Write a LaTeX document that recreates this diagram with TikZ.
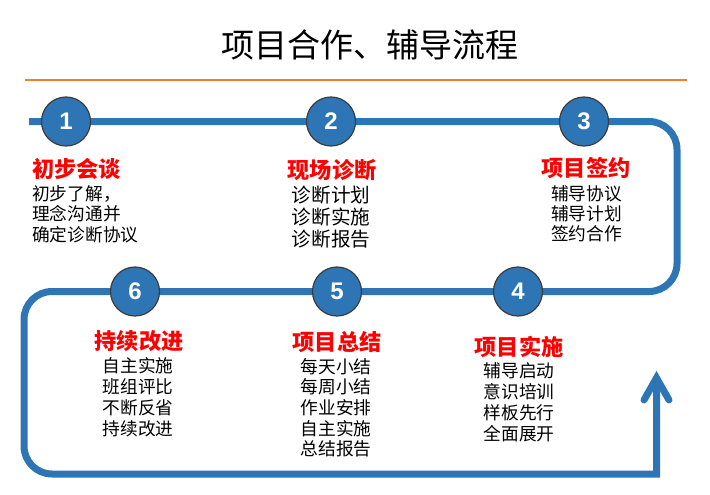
\documentclass[tikz,border=0pt]{standalone}
\usepackage{fontspec}
\usepackage{tikz}
\usepackage{xcolor}
\setmainfont{Noto Sans CJK SC}
\newfontfamily\numfont{Liberation Sans}
\usetikzlibrary{
    calc,
    positioning
}
\definecolor{flowblue}{RGB}{46,117,182}
\definecolor{ringgray}{RGB}{60,60,60}
\definecolor{ruleorange}{RGB}{240,125,40}
\definecolor{headred}{RGB}{255,0,0}

\begin{document}
\begin{tikzpicture}[x=1pt, y=-1pt,
        flow/.style={draw=flowblue, line width=7pt},
        stepnum/.style={circle, draw=ringgray, line width=1.2pt, fill=flowblue, minimum size=49pt, inner sep=0pt, text=white, font=\numfont\bfseries\fontsize{24}{24}\selectfont},
        head/.style={inner sep=0pt, text=headred, font=\bfseries\fontsize{22.2}{24}\selectfont},
        body/.style={inner sep=0pt, anchor=north, align=center, font=\fontsize{17.7}{20.5}\selectfont}]
        \useasboundingbox (0,0) rectangle (710,495);

        % title and rule
        \node (title) at (370,45) {\fontsize{33}{36}\selectfont 项目合作、辅导流程};
        \coordinate (ruleL) at (25,80);
        \coordinate (ruleR) at (687,80);
        \draw[ruleorange, line width=2.2pt] (ruleL) -- (ruleR);

        % the loop
        \coordinate (start) at (29,121.5);
        \coordinate (tip) at (656.5,378);
        \draw[flow, rounded corners=28pt]
        (start) -- (677,121.5) -- (677,291.5) -- (24,291.5) -- (24,474) [sharp corners] -- (656.5,474) -- (tip);
        \draw[flow, line cap=round, line join=miter] (644,400) -- (tip) -- (669,400);

        % steps
        \node[stepnum] (s1) at (66,121.5) {1};
        \node[stepnum] (s2) at (331,121.5) {2};
        \node[stepnum] (s3) at (584,121.5) {3};
        \node[stepnum] (s4) at (518,291.5) {4};
        \node[stepnum] (s5) at (337,291.5) {5};
        \node[stepnum] (s6) at (135,291.5) {6};

        % texts
        \node[head, anchor=west] (h1) at (32,169) {初步会谈};
        \node[body, anchor=north west, align=left] (b1) at (32,185) {初步了解，\\理念沟通并\\确定诊断协议};
        \node[head] (h2) at (332,170) {现场诊断};
        \node[body, font=\fontsize{19.6}{21.7}\selectfont] (b2) at (331,186) {诊断计划\\诊断实施\\诊断报告};
        \node[head] (h3) at (586,168) {项目签约};
        \node[body, font=\fontsize{17.7}{20}\selectfont] (b3) at (586.5,185) {辅导协议\\辅导计划\\签约合作};
        \node[head] (h4) at (519,347) {项目实施};
        \node[body, font=\fontsize{17.7}{21}\selectfont] (b4) at (519,362) {辅导启动\\意识培训\\样板先行\\全面展开};
        \node[head] (h5) at (337,342) {项目总结};
        \node[body, font=\fontsize{17.7}{20.7}\selectfont] (b5) at (336,358) {每天小结\\每周小结\\作业安排\\自主实施\\总结报告};
        \node[head] (h6) at (139,341) {持续改进};
        \node[body, font=\fontsize{17.7}{21}\selectfont] (b6) at (138,357) {自主实施\\班组评比\\不断反省\\持续改进};
    \end{tikzpicture}
\end{document}
